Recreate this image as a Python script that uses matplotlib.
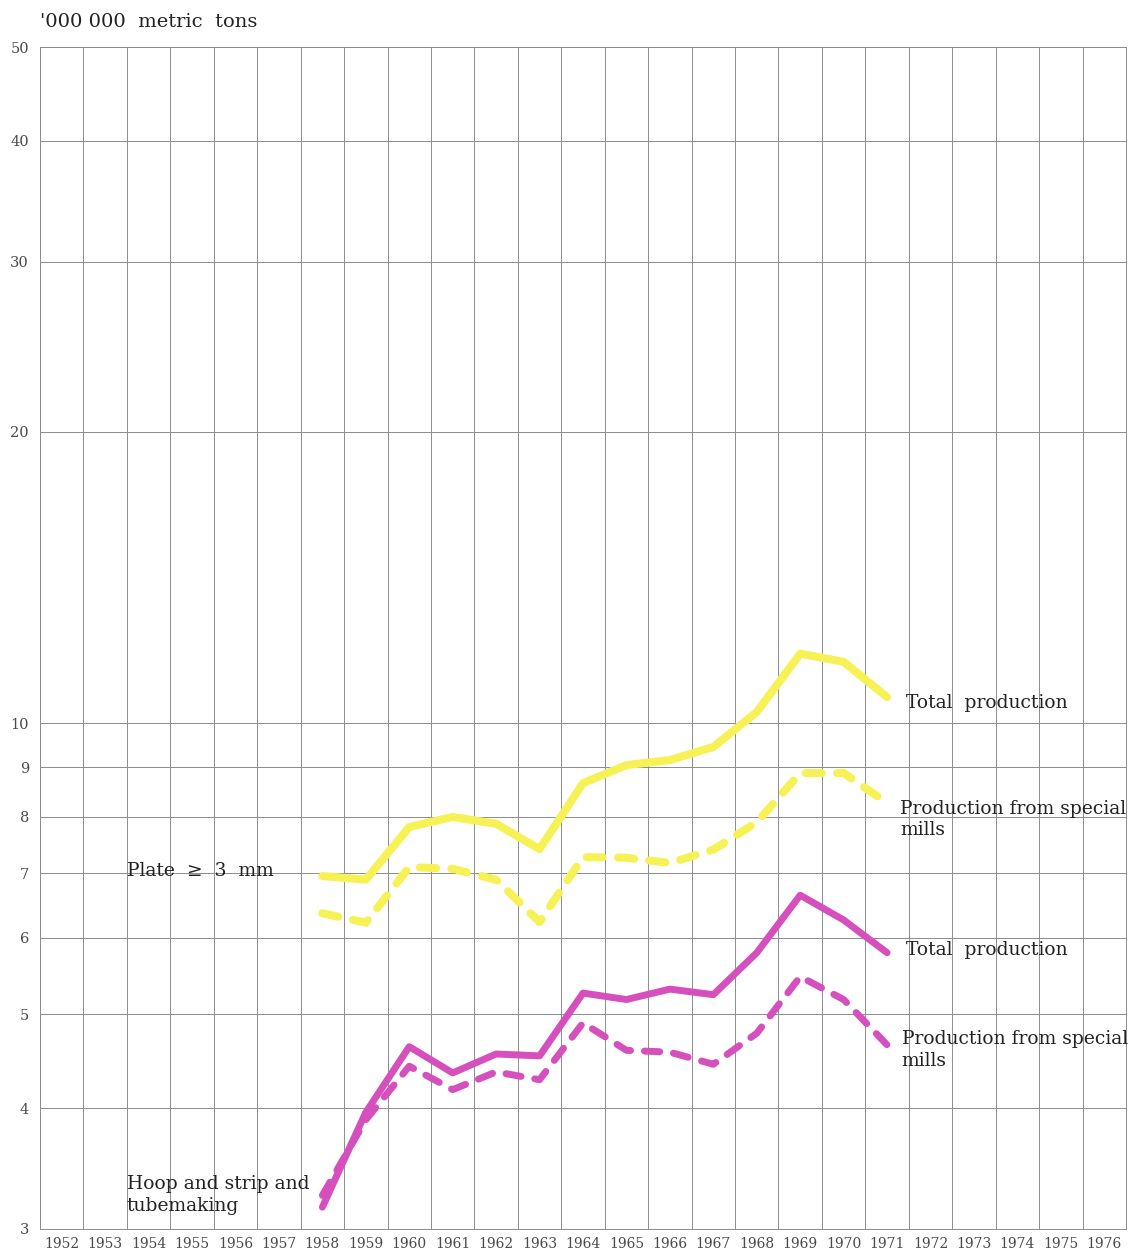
import matplotlib
matplotlib.use("Agg")
import matplotlib.pyplot as plt
from matplotlib.ticker import FixedLocator, NullLocator

# data (million metric tons)
years = [1958, 1959, 1960, 1961, 1962, 1963, 1964, 1965, 1966, 1967, 1968, 1969, 1970, 1971]

plate_total = [6.95, 6.89, 7.81, 8.0, 7.87, 7.41, 8.67, 9.05, 9.16, 9.45, 10.27, 11.8, 11.57, 10.64]
plate_special = [6.36, 6.22, 7.10, 7.07, 6.89, 6.23, 7.27, 7.26, 7.17, 7.40, 7.90, 8.88, 8.88, 8.27]
hoop_total = [3.16, 3.96, 4.63, 4.35, 4.55, 4.53, 5.26, 5.18, 5.31, 5.24, 5.79, 6.64, 6.26, 5.79]
hoop_special = [3.25, 3.89, 4.42, 4.18, 4.36, 4.28, 4.90, 4.59, 4.57, 4.44, 4.78, 5.47, 5.18, 4.65]

year_labels = [str(y) for y in range(1952, 1977)]
y_ticks = [3, 4, 5, 6, 7, 8, 9, 10, 20, 30, 40, 50]

yellow = "#f6f255"
magenta = "#d650bd"
grid_col = "#8c8c8c"
text_col = "#222222"
tick_col = "#4a4a4a"

plt.rcParams["font.family"] = ["DejaVu Serif"]

fig = plt.figure(figsize=(11.28, 12.58), dpi=100)
ax = fig.add_axes([40 / 1128, 29 / 1258, 1086 / 1128, 1182 / 1258])

ax.set_yscale("log")
ax.set_ylim(3, 50)
ax.set_xlim(1951.5, 1976.5)

# grid: vertical lines between years, horizontal at tick values
ax.xaxis.set_major_locator(FixedLocator(range(1952, 1977)))
ax.xaxis.set_minor_locator(FixedLocator([y + 0.5 for y in range(1951, 1977)]))
ax.set_xticklabels(year_labels)
ax.yaxis.set_major_locator(FixedLocator(y_ticks))
ax.yaxis.set_minor_locator(NullLocator())
ax.set_yticklabels([str(v) for v in y_ticks])

ax.grid(True, which="minor", axis="x", color=grid_col, linewidth=0.7)
ax.grid(True, which="major", axis="y", color=grid_col, linewidth=0.7)
ax.tick_params(which="both", length=0)
ax.tick_params(axis="x", labelsize=10, labelcolor=tick_col, pad=6)
ax.tick_params(axis="y", labelsize=10.5, labelcolor=tick_col, pad=8)
for s in ax.spines.values():
    s.set_color(grid_col)
    s.set_linewidth(0.7)

# lines
ax.plot(years, plate_total, color=yellow, lw=5.8, solid_capstyle="round", solid_joinstyle="round")
ax.plot(years, plate_special, color=yellow, lw=5.8, linestyle=(0, (2.0, 1.9)),
        dash_capstyle="round", dash_joinstyle="round")
ax.plot(years, hoop_total, color=magenta, lw=5.0, solid_capstyle="round", solid_joinstyle="round")
ax.plot(years, hoop_special, color=magenta, lw=5.0, linestyle=(0, (2.2, 2.0)),
        dash_capstyle="round", dash_joinstyle="round")

# labels
fs = 13.5
ls = 1.27
ax.text(1971.44, 10.5, "Total  production", fontsize=fs, color=text_col, va="center")
ax.text(1971.30, 7.95, "Production from special\nmills", fontsize=fs, color=text_col,
        va="center", linespacing=ls)
ax.text(1971.44, 5.83, "Total  production", fontsize=fs, color=text_col, va="center")
ax.text(1971.34, 4.59, "Production from special\nmills", fontsize=fs, color=text_col,
        va="center", linespacing=ls)
ax.text(1953.50, 7.03, "Plate  \u2265  3  mm", fontsize=fs, color=text_col, va="center")
ax.text(1953.50, 3.25, "Hoop and strip and\ntubemaking", fontsize=fs, color=text_col,
        va="center", linespacing=ls)

fig.text(40 / 1128, 1 - 22 / 1258, "'000 000  metric  tons", fontsize=14, color=text_col,
         va="center", ha="left")

fig.savefig("out.png", dpi=100, facecolor="white")
